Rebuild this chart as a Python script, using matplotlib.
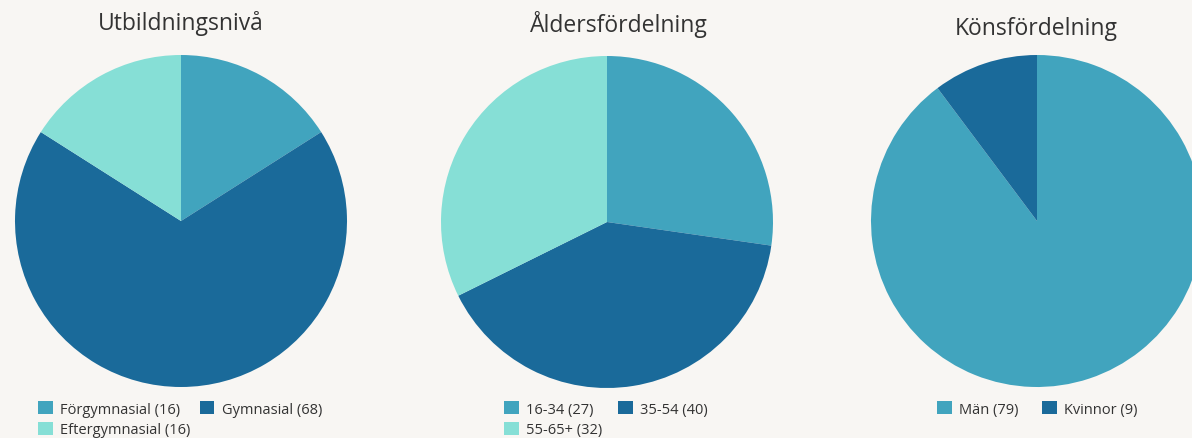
import matplotlib
matplotlib.use('Agg')
import matplotlib.pyplot as plt

plt.rcParams['font.family'] = ['Open Sans', 'DejaVu Sans']

bg = '#f8f6f3'
c_mid = '#41a4be'
c_dark = '#1a6a9a'
c_light = '#86dfd6'

edu_labels = ['Förgymnasial', 'Gymnasial', 'Eftergymnasial']
edu_values = [16, 68, 16]
age_labels = ['16-34', '35-54', '55-65+']
age_values = [27, 40, 32]
sex_labels = ['Män', 'Kvinnor']
sex_values = [79, 9]

W, H = 1192, 439
fig = plt.figure(figsize=(W / 100, H / 100), dpi=100, facecolor=bg)

R = 166


def pie_axes(cx, cy):
    return fig.add_axes([(cx - R) / W, (H - cy - R) / H, 2 * R / W, 2 * R / H])


def draw(cx, cy, labels, values, colors, title, tx, ty, leg_x, colsp):
    ax = pie_axes(cx, cy)
    ax.set_facecolor(bg)
    wedges, _ = ax.pie(values, colors=colors, startangle=90, counterclock=False,
                       radius=1)
    ax.set_xlim(-1, 1)
    ax.set_ylim(-1, 1)
    ax.set_aspect('equal')
    ax.axis('off')
    fig.text(tx / W, 1 - ty / H, title, ha='center', va='center',
             fontsize=16.5, color='#333333')
    texts = [f'{l} ({v})' for l, v in zip(labels, values)]
    # row-wise order for a 2-column legend
    order = list(range(0, len(texts), 2)) + list(range(1, len(texts), 2))
    fig.legend([wedges[i] for i in order], [texts[i] for i in order],
               loc='upper left', bbox_to_anchor=(leg_x / W, 1 - 402 / H),
               ncol=2, frameon=False, fontsize=10.5, handlelength=1.0,
               handleheight=1.0, handletextpad=0.5, columnspacing=colsp,
               labelspacing=0.35, borderpad=0, borderaxespad=0,
               labelcolor='#333333')
    return ax


draw(181, 222, edu_labels, edu_values, [c_mid, c_dark, c_light],
     'Utbildningsnivå', 181, 24, 38, 0.65)
draw(607, 223, age_labels, age_values, [c_mid, c_dark, c_light],
     'Åldersfördelning', 619, 24, 504, 1.1)
draw(1037, 222, sex_labels, sex_values, [c_mid, c_dark],
     'Könsfördelning', 1036, 29, 937, 1.65)

fig.savefig('out.png', dpi=100, facecolor=bg)
